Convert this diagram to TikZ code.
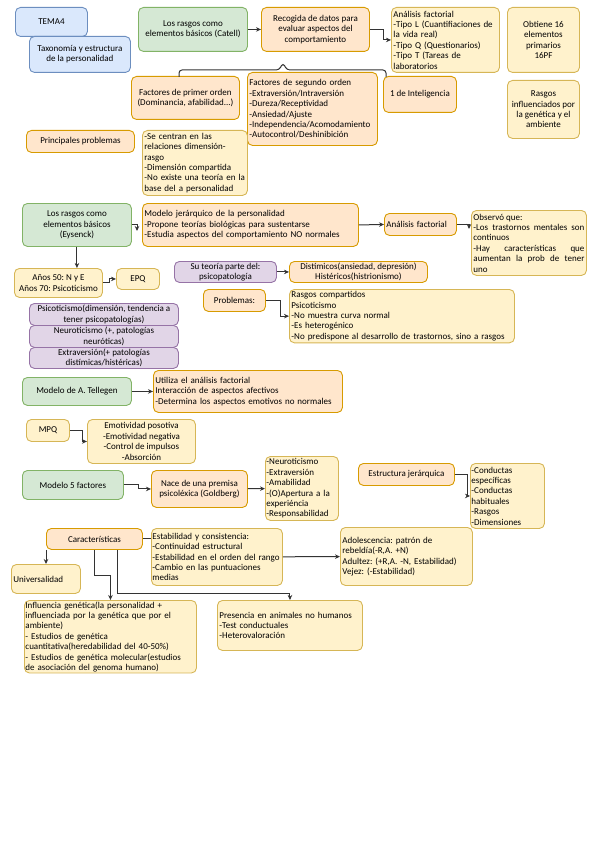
\documentclass[tikz,border=0pt]{standalone}
\usepackage{fontspec}
\setmainfont{Carlito}
\usetikzlibrary{arrows.meta}
\frenchspacing
\hyphenpenalty=10000
\exhyphenpenalty=10000

\definecolor{bluef}{HTML}{DAE8FC}\definecolor{blued}{HTML}{6C8EBF}
\definecolor{grnf}{HTML}{D5E8D4}\definecolor{grnd}{HTML}{82B366}
\definecolor{orgf}{HTML}{FFE6CC}\definecolor{orgd}{HTML}{D79B00}
\definecolor{ylwf}{HTML}{FFF2CC}\definecolor{ylwd}{HTML}{D6B656}
\definecolor{prpf}{HTML}{E1D5E7}\definecolor{prpd}{HTML}{9673A6}

\tikzset{
  box/.style={draw, rounded corners=5pt, line width=0.9pt, anchor=north west,
    inner sep=2pt, align=center, font=\fontsize{9}{10.4}\selectfont},
  blu/.style={box, fill=bluef, draw=blued},
  grn/.style={box, fill=grnf, draw=grnd},
  org/.style={box, fill=orgf, draw=orgd},
  ylw/.style={box, fill=ylwf, draw=ylwd},
  prp/.style={box, fill=prpf, draw=prpd},
  lft/.style={align=left, text width=#1},
  conn/.style={line width=1pt, draw=black!80},
  arr/.style={conn, -{Stealth[length=5pt,width=4.5pt]}}
}

\begin{document}
\begin{tikzpicture}[x=1pt, y=-1pt]
    \useasboundingbox (0,0) rectangle (599,848);

    % titulo
    \node[blu, minimum width=72, minimum height=29] (tema) at (15,7) {TEMA4};
    \node[blu, minimum width=101, minimum height=36] (tax) at (29,36) {Taxonomía y estructura\\de la personalidad};

    % Catell
    \node[grn, minimum width=109, minimum height=44] (catell) at (138,7) {Los rasgos como\\elementos básicos (Catell)};
    \node[org, minimum width=108, minimum height=44] (rec) at (261,7) {Recogida de datos para\\evaluar aspectos del\\comportamiento};
    \node[ylw, lft=104, minimum height=65] (af1) at (391,7) {Análisis factorial\\-Tipo L (Cuantifiaciones de\\la vida real)\\-Tipo Q (Questionarios)\\-Tipo T (Tareas de\\laboratorios};
    \node[ylw, minimum width=72, minimum height=65] (obt) at (507,7) {Obtiene 16\\elementos\\primarios\\16PF};
    \node[ylw, minimum width=72, minimum height=58] (rinf) at (507,80) {Rasgos\\influenciados por\\la genética y el\\ambiente};
    \node[org, minimum width=108, minimum height=43] (fpo) at (131,76) {Factores de primer orden\\(Dominancia, afabilidad...)};
    \node[org, lft=126, minimum height=73] (fso) at (247,72) {Factores de segundo orden\\-Extraversión/Intraversión\\-Dureza/Receptividad\\-Ansiedad/Ajuste\\-Independencia/Acomodamiento\\-Autocontrol/Deshinibición};
    \node[org, minimum width=73, minimum height=36] (intel) at (383,76) {1 de Inteligencia};
    \node[org, minimum width=108, minimum height=22] (pp) at (26,130) {Principales problemas};
    \node[ylw, lft=101, minimum height=65] (sec) at (142,130) {-Se centran en las\\relaciones dimensión-\\rasgo\\-Dimensión compartida\\-No existe una teoría en la\\base del a personalidad};

    \draw[arr] (catell) -- (rec);
    \draw[arr] (rec.east) -- ++(14,0) |- (af1.west);
    \draw[conn, rounded corners=3pt] (179,77) |- (279,70) -- (283,63) -- (287,70) -| (386,77);

    % Eysenck
    \node[grn, minimum width=109, minimum height=43] (eys) at (22,203) {Los rasgos como\\elementos básicos\\(Eysenck)};
    \node[org, lft=212, minimum height=43] (mjer) at (142,203) {Modelo jerárquico de la personalidad\\-Propone teorías biológicas para sustentarse\\-Estudia aspectos del comportamiento NO normales};
    \node[org, lft=68, minimum height=22] (af2) at (384,213) {Análisis factorial};
    \node[ylw, align=justify, text width=111, minimum height=65] (obs) at (471,210) {Observó que:\\-Los trastornos mentales son continuos\\-Hay características que aumentan la prob de tener uno};
    \node[ylw, minimum width=88, minimum height=29] (years) at (14,268) {Años 50: N y E\\Años 70: Psicoticismo};
    \node[ylw, minimum width=43, minimum height=21] (epq) at (116,268) {EPQ};
    \node[prp, minimum width=102, minimum height=21, inner sep=1pt] (suteo) at (174,261) {Su teoría parte del:\\psicopatología};
    \node[org, minimum width=138, minimum height=21, inner sep=1pt] (dist) at (289,261) {Distímicos(ansiedad, depresión)\\Histéricos(histrionismo)};
    \node[org, minimum width=62, minimum height=22] (prob) at (203,289) {Problemas:};
    \node[ylw, lft=221, minimum height=51] (rc) at (289,289) {Rasgos compartidos\\Psicoticismo\\-No muestra curva normal\\-Es heterogénico\\-No predispone al desarrollo de trastornos, sino a rasgos};
    \node[prp, minimum width=149, minimum height=22, inner sep=0.5pt] (psic) at (29,303) {Psicoticismo(dimensión, tendencia a\\tener psicopatologías)};
    \node[prp, minimum width=149, minimum height=22, inner sep=0.5pt] (neur) at (29,325) {Neuroticismo (+, patologías\\neuróticas)};
    \node[prp, minimum width=149, minimum height=21, inner sep=0.5pt] (extr) at (29,347) {Extraversión(+ patologías\\distímicas/histéricas)};

    \coordinate (e1) at (137,231);
    \coordinate (o1) at (469,229);
    \draw[arr] (eys.east) -| (e1);
    \draw[arr] (mjer.east) -- (af2.west);
    \draw[arr] (af2.east) -| (o1);
    \draw[arr] (eys.south) -- (eys.south |- years.north);
    \draw[arr] (years.east) -- ++(7,0) |- (epq.west);
    \draw[arr] (suteo) -- (dist);
    \draw[arr] (prob.east) -- ++(15,0) |- (rc.west);

    % Tellegen
    \node[grn, minimum width=109, minimum height=28] (tell) at (22,377) {Modelo de A. Tellegen};
    \node[org, lft=185, minimum height=42] (util) at (153,370) {Utiliza el análisis factorial\\Interacción de aspectos afectivos\\-Determina los aspectos emotivos no normales};
    \node[ylw, minimum width=43, minimum height=22] (mpq) at (26,419) {MPQ};
    \node[ylw, minimum width=108, minimum height=44, inner sep=0.5pt] (emo) at (87,419) {Emotividad posotiva\\-Emotividad negativa\\-Control de impulsos\\-Absorción};

    \draw[arr] (tell) -- (util);
    \draw[arr] (mpq.east) -- ++(13,0) |- (emo.west);

    % cinco factores
    \node[grn, minimum width=101, minimum height=29] (m5) at (22,470) {Modelo 5 factores};
    \node[org, minimum width=96, minimum height=37] (nace) at (151,470) {Nace de una premisa\\psicoléxica (Goldberg)};
    \node[ylw, lft=71, minimum height=64, inner sep=1pt] (big5) at (265,456) {-Neuroticismo\\-Extraversión\\-Amabilidad\\-(O)Apertura a la\\experiéncia\\-Responsabilidad};
    \node[org, minimum width=96, minimum height=22] (ej) at (358,463) {Estructura jerárquica};
    \node[ylw, lft=72, minimum height=65, inner sep=1pt] (cond) at (470,463) {-Conductas\\específicas\\-Conductas\\habituales\\-Rasgos\\-Dimensiones};

    \draw[arr] (m5.east) -- ++(15,0) |- (nace.west);
    \draw[arr] (nace) -- (big5);
    \draw[arr] (ej.east) -- ++(13,0) |- (cond.west);

    % caracteristicas
    \node[org, minimum width=96, minimum height=21] (caract) at (46,528) {Características};
    \node[ylw, lft=129, minimum height=57, inner sep=1pt] (estab) at (151,528) {Estabilidad y consistencia:\\-Continuidad estructural\\-Estabilidad en el orden del rango\\-Cambio en las puntuaciones\\medias};
    \node[ylw, lft=128, minimum height=58] (adol) at (340,527) {Adolescencia: patrón de\\rebeldía(-R,A. +N)\\Adultez: (+R,A. -N, Estabilidad)\\Vejez: (-Estabilidad)};
    \node[ylw, lft=65, minimum height=29] (univ) at (11,564) {Universalidad};
    \node[ylw, lft=170, minimum height=52, inner sep=1pt] (infl) at (24,600) {Influencia genética(la personalidad +\\influenciada por la genética que por el\\ambiente)\\- Estudios de genética\\cuantitativa(heredabilidad del 40-50\%)\\- Estudios de genética molecular(estudios\\de asociación del genoma humano)};
    \node[ylw, lft=141, minimum height=50] (pres) at (217,600) {Presencia en animales no humanos\\-Test conductuales\\-Heterovaloración\\[8pt]};

    \draw[conn] (caract.east) -- (caract.east -| estab.west);
    \draw[arr] (estab) -- (adol);
    \draw[arr] (caract.south west) -- (caract.south west |- univ.north);
    \draw[arr] (caract.south) -- ++(0,26) -| (infl.north);
    \draw[arr] ([xshift=23pt]caract.south) -- ++(0,44) -| (pres.north);
\end{tikzpicture}
\end{document}
